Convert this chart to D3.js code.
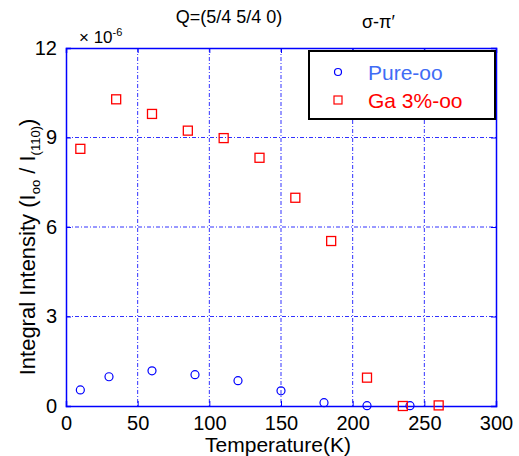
<!DOCTYPE html>
<html><head><meta charset="utf-8">
<script src="https://cdn.jsdelivr.net/npm/d3@7"></script>
<style>body{margin:0;background:#fff}text{font-family:"Liberation Sans",Arial,sans-serif}</style>
</head><body><svg id="c" width="519" height="456"></svg>
<script>
const pureT = [10, 30, 60, 90, 120, 150, 180, 210, 240];
const pureV = [0.54, 0.98, 1.18, 1.05, 0.85, 0.51, 0.11, 0.01, 0.01];
const gaT = [10, 35, 60, 85, 110, 135, 160, 185, 210, 235, 260];
const gaV = [8.62, 10.28, 9.79, 9.23, 8.98, 8.32, 6.98, 5.53, 0.95, 0.0, 0.02];
const xTicks = [0, 50, 100, 150, 200, 250, 300];
const yTicks = [0, 3, 6, 9, 12];
const seriesNames = ["Pure-oo", "Ga 3%-oo"];

const svg = d3.select("#c");
const L = 66, R = 496, T = 48, B = 406;
const x = d3.scaleLinear().domain([0, 300]).range([L, R]);
const y = d3.scaleLinear().domain([0, 12]).range([B, T]);
const blue = "#0000ff";

// grid
const g = svg.append("g");
g.selectAll(".gx").data(xTicks.slice(1, -1)).join("line")
  .attr("x1", d => x(d)).attr("x2", d => x(d)).attr("y1", T).attr("y2", B)
  .attr("stroke", blue).attr("stroke-width", 1).attr("stroke-dasharray", "4,2,1,2").attr("opacity", 0.8);
g.selectAll(".gy").data(yTicks.slice(1, -1)).join("line")
  .attr("y1", d => y(d)).attr("y2", d => y(d)).attr("x1", L).attr("x2", R)
  .attr("stroke", blue).attr("stroke-width", 1).attr("stroke-dasharray", "4,2,1,2").attr("opacity", 0.8);

// axes
const ax = svg.append("g").attr("transform", `translate(0,${B})`)
  .call(d3.axisBottom(x).tickValues(xTicks).tickSize(-5).tickPadding(10));
const ay = svg.append("g").attr("transform", `translate(${L},0)`)
  .call(d3.axisLeft(y).tickValues(yTicks).tickSize(-5).tickPadding(9));
const axT = svg.append("g").attr("transform", `translate(0,${T})`)
  .call(d3.axisTop(x).tickValues(xTicks).tickSize(-5).tickFormat(""));
const ayR = svg.append("g").attr("transform", `translate(${R},0)`)
  .call(d3.axisRight(y).tickValues(yTicks).tickSize(-5).tickFormat(""));
[ax, ay, axT, ayR].forEach(a => {
  a.selectAll("path").attr("stroke", blue).attr("stroke-width", 1.5);
  a.selectAll("line").attr("stroke", blue);
  a.selectAll("text").attr("fill", "#000").style("font-size", "20px").style("font-family", "Liberation Sans, Arial, sans-serif");
});

// data
svg.append("g").selectAll("circle").data(pureT.map((t, i) => [t, pureV[i]])).join("circle")
  .attr("cx", d => x(d[0])).attr("cy", d => y(d[1])).attr("r", 4)
  .attr("fill", "none").attr("stroke", blue).attr("stroke-width", 1.2);
const s = 9;
svg.append("g").selectAll("rect").data(gaT.map((t, i) => [t, gaV[i]])).join("rect")
  .attr("x", d => x(d[0]) - s / 2).attr("y", d => y(d[1]) - s / 2).attr("width", s).attr("height", s)
  .attr("fill", "none").attr("stroke", "#ff0000").attr("stroke-width", 1.3);

// legend
const lg = svg.append("g");
lg.append("rect").attr("x", 309).attr("y", 51).attr("width", 186).attr("height", 68)
  .attr("fill", "#fff").attr("stroke", "#000").attr("stroke-width", 2);
lg.append("circle").attr("cx", 338).attr("cy", 72).attr("r", 3.5).attr("fill", "none").attr("stroke", blue).attr("stroke-width", 1.2);
lg.append("rect").attr("x", 334).attr("y", 96).attr("width", 8).attr("height", 8).attr("fill", "none").attr("stroke", "#ff0000").attr("stroke-width", 1.2);
lg.append("text").attr("x", 368).attr("y", 80).attr("fill", "#3f6cf5").style("font-size", "21px").text(seriesNames[0]);
lg.append("text").attr("x", 368).attr("y", 108).attr("fill", "#ff0000").style("font-size", "21px").text(seriesNames[1]);

// titles
svg.append("text").attr("x", 229).attr("y", 23).attr("text-anchor", "middle").style("font-size", "18px").text("Q=(5/4 5/4 0)");
svg.append("text").attr("x", 362).attr("y", 28).style("font-size", "18px").text("σ-π′");
const mult = svg.append("text").attr("x", 79).attr("y", 43).style("font-size", "17px");
mult.append("tspan").text("× 10");
mult.append("tspan").attr("dy", -7).style("font-size", "11px").text("-6");

svg.append("text").attr("x", 278).attr("y", 452).attr("text-anchor", "middle").style("font-size", "21px").text("Temperature(K)");
const yl = svg.append("text").attr("transform", `translate(35,247) rotate(-90)`).attr("text-anchor", "middle").style("font-size", "22px");
yl.append("tspan").text("Integral Intensity (I");
yl.append("tspan").attr("dy", 5).style("font-size", "13px").text("oo");
yl.append("tspan").attr("dy", -5).text(" / I");
yl.append("tspan").attr("dy", 5).style("font-size", "13px").text("(110)");
yl.append("tspan").attr("dy", -5).text(")");
</script></body></html>
